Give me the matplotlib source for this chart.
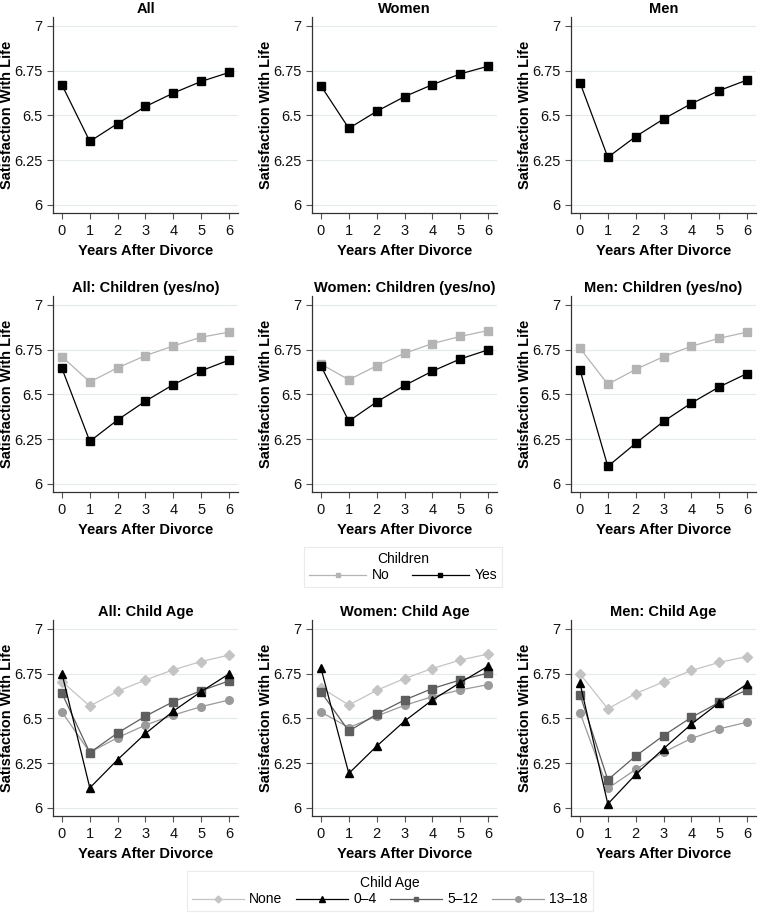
import numpy as np
import matplotlib
matplotlib.use("Agg")
import matplotlib.pyplot as plt
from matplotlib.lines import Line2D

plt.rcParams['font.family'] = ['Liberation Sans', 'DejaVu Sans']

years = [0, 1, 2, 3, 4, 5, 6]
ytick_vals = [6, 6.25, 6.5, 6.75, 7]
ytick_labels = ['6', '6.25', '6.5', '6.75', '7']

# row 1
all_total = [6.67, 6.355, 6.455, 6.55, 6.625, 6.69, 6.74]
women_total = [6.665, 6.428, 6.523, 6.605, 6.672, 6.732, 6.775]
men_total = [6.683, 6.266, 6.382, 6.48, 6.566, 6.639, 6.698]

# row 2: children yes / no
all_no = [6.711, 6.57, 6.649, 6.717, 6.771, 6.82, 6.848]
all_yes = [6.645, 6.238, 6.358, 6.463, 6.555, 6.632, 6.692]
women_no = [6.67, 6.582, 6.66, 6.73, 6.784, 6.824, 6.857]
women_yes = [6.659, 6.351, 6.458, 6.55, 6.63, 6.698, 6.749]
men_no = [6.758, 6.557, 6.64, 6.711, 6.769, 6.814, 6.848]
men_yes = [6.636, 6.098, 6.227, 6.349, 6.452, 6.542, 6.617]

# row 3: child age
all_none = [6.706, 6.569, 6.652, 6.715, 6.772, 6.818, 6.854]
all_0_4 = [6.75, 6.112, 6.27, 6.416, 6.541, 6.65, 6.749]
all_5_12 = [6.64, 6.309, 6.419, 6.513, 6.594, 6.655, 6.71]
all_13_18 = [6.536, 6.31, 6.393, 6.463, 6.519, 6.566, 6.603]

women_none = [6.672, 6.575, 6.657, 6.723, 6.779, 6.826, 6.86]
women_0_4 = [6.78, 6.193, 6.345, 6.485, 6.603, 6.70, 6.792]
women_5_12 = [6.648, 6.429, 6.524, 6.603, 6.667, 6.715, 6.753]
women_13_18 = [6.536, 6.449, 6.513, 6.573, 6.622, 6.659, 6.689]

men_none = [6.749, 6.554, 6.639, 6.704, 6.768, 6.813, 6.846]
men_0_4 = [6.697, 6.022, 6.187, 6.331, 6.468, 6.588, 6.692]
men_5_12 = [6.633, 6.157, 6.29, 6.404, 6.506, 6.59, 6.659]
men_13_18 = [6.532, 6.109, 6.215, 6.311, 6.388, 6.442, 6.479]

titles = [["All", "Women", "Men"],
          ["All: Children (yes/no)", "Women: Children (yes/no)", "Men: Children (yes/no)"],
          ["All: Child Age", "Women: Child Age", "Men: Child Age"]]

c_none = '#c4c4c4'
c_no = '#b4b4b4'
c_black = '#000000'
c_5_12 = '#5e5e5e'
c_13_18 = '#9a9a9a'

W, H = 760, 913
fig = plt.figure(figsize=(W / 100, H / 100), dpi=100)

lefts = [53, 312, 571]
bottoms = [213, 492, 816]
ax_w, ax_h = 185, 196


def style(ax, title):
    ax.set_xlim(-0.323, 6.323)
    ax.set_ylim(5.955, 7.05)
    ax.set_xticks(years)
    ax.set_yticks(ytick_vals)
    ax.set_yticklabels(ytick_labels)
    for s in ['top', 'right']:
        ax.spines[s].set_visible(False)
    for s in ['left', 'bottom']:
        ax.spines[s].set_color('#333333')
        ax.spines[s].set_linewidth(0.9)
    ax.tick_params(direction='out', length=4, width=0.8, color='#555555',
                   labelsize=10.5, labelcolor='#111111')
    ax.tick_params(axis='x', pad=4)
    ax.tick_params(axis='y', pad=3.5)
    ax.grid(axis='y', color='#e3ebeb', linewidth=0.8)
    ax.set_axisbelow(True)
    ax.set_title(title, fontsize=10.5, fontweight='bold', pad=3)
    ax.set_xlabel("Years After Divorce", fontsize=10.5, fontweight='bold', labelpad=4)
    ax.set_ylabel("Satisfaction With Life", fontsize=10.5, fontweight='bold')
    ax.yaxis.set_label_coords(-39 / ax_w, 0.5)


axes = []
for r in range(3):
    row = []
    for c in range(3):
        ax = fig.add_axes([lefts[c] / W, (H - bottoms[r]) / H, ax_w / W, ax_h / H])
        style(ax, titles[r][c])
        row.append(ax)
    axes.append(row)

lw = 0.9
sq = dict(marker='s', markersize=5.5, linewidth=lw)

# row 1
for ax, vals in zip(axes[0], [all_total, women_total, men_total]):
    ax.plot(years, vals, color=c_black, **sq)

# row 2
for ax, no, yes in zip(axes[1], [all_no, women_no, men_no], [all_yes, women_yes, men_yes]):
    ax.plot(years, no, color=c_no, **sq)
    ax.plot(years, yes, color=c_black, **sq)

# row 3
groups = [
    (all_none, all_0_4, all_5_12, all_13_18),
    (women_none, women_0_4, women_5_12, women_13_18),
    (men_none, men_0_4, men_5_12, men_13_18),
]
for ax, (n, a, b, d) in zip(axes[2], groups):
    ax.plot(years, n, color=c_none, marker='D', markersize=5, linewidth=lw)
    ax.plot(years, d, color=c_13_18, marker='o', markersize=5.5, linewidth=lw)
    ax.plot(years, b, color=c_5_12, marker='s', markersize=5.5, linewidth=lw)
    ax.plot(years, a, color=c_black, marker='^', markersize=6, linewidth=lw)

# legends
leg_kw = dict(loc='center', fontsize=10, title_fontsize=10, handletextpad=0.4,
              frameon=True, fancybox=False, edgecolor='#e6e6e6', borderpad=0.35,
              labelspacing=0.2)

h_children = [
    Line2D([], [], color=c_no, marker='s', markersize=3.5, linewidth=lw),
    Line2D([], [], color=c_black, marker='s', markersize=3.5, linewidth=lw),
]
leg1 = fig.legend(h_children, ['No', 'Yes'], title='Children', ncol=2,
                  bbox_to_anchor=(403 / W, 1 - 567 / H), handlelength=4.1,
                  columnspacing=1.6, **leg_kw)
leg1.get_frame().set_linewidth(0.8)

h_age = [
    Line2D([], [], color=c_none, marker='D', markersize=3.5, linewidth=lw),
    Line2D([], [], color=c_black, marker='^', markersize=4, linewidth=lw),
    Line2D([], [], color=c_5_12, marker='s', markersize=3.5, linewidth=lw),
    Line2D([], [], color=c_13_18, marker='o', markersize=4, linewidth=lw),
]
leg2 = fig.legend(h_age, ['None', '0\u20134', '5\u201312', '13\u201318'], title='Child Age',
                  ncol=4, bbox_to_anchor=(390 / W, 1 - 891 / H), handlelength=3.7,
                  columnspacing=1.0, **leg_kw)
leg2.get_frame().set_linewidth(0.8)

fig.savefig('out.png', dpi=100, facecolor='white')
